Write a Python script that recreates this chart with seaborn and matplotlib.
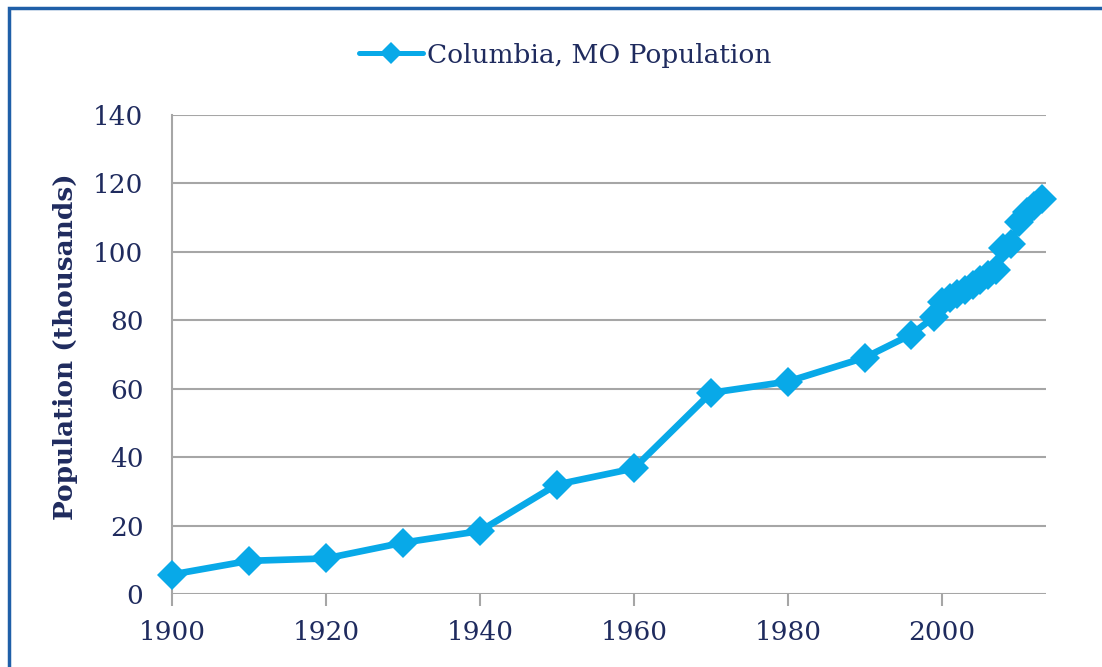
import matplotlib
matplotlib.use("Agg")
import matplotlib.pyplot as plt
import seaborn as sns
import pandas as pd
from matplotlib.patches import Rectangle

# Columbia, MO population by year (thousands)
years = [1900, 1910, 1920, 1930, 1940, 1950, 1960, 1970, 1980, 1990, 1996,
         1999, 2000, 2001, 2002, 2003, 2004, 2005, 2006, 2007, 2008, 2009,
         2010, 2011, 2012, 2013]
population = [5.7, 9.7, 10.4, 15.0, 18.4, 32.0, 36.7, 58.8, 62.1, 69.1, 75.8,
              81.0, 85.3, 86.5, 87.6, 88.8, 90.3, 91.8, 93.3, 94.8, 101.0, 102.3,
              108.6, 111.6, 113.5, 115.4]
y_ticks = [0, 20, 40, 60, 80, 100, 120, 140]
x_ticks = [1900, 1920, 1940, 1960, 1980, 2000]
series_name = "Columbia, MO Population"

df = pd.DataFrame({"Year": years, "Population": population})

sns.set_style("white")
plt.rcParams["font.family"] = ["DejaVu Serif"]

text_color = "#1f2b5e"
line_color = "#08a9e8"
grid_color = "#a6a6a6"

fig = plt.figure(figsize=(11.02, 6.67), dpi=100)
ax = fig.add_axes([0.156, 0.1094, 0.793, 0.7182])

sns.lineplot(data=df, x="Year", y="Population", ax=ax, color=line_color,
             linewidth=4.8, marker="D", markersize=15, markeredgewidth=0,
             legend=False, clip_on=False, zorder=3)

ax.set_xlim(1900, 2013.5)
ax.set_ylim(0, 140)
ax.set_xticks(x_ticks)
ax.set_yticks(y_ticks)
ax.yaxis.grid(True, color=grid_color, linewidth=1.5)
ax.set_axisbelow(True)

for side in ("top", "right", "bottom"):
    ax.spines[side].set_visible(False)
ax.spines["left"].set_color(grid_color)
ax.spines["left"].set_linewidth(1.5)
ax.spines["left"].set_zorder(1)

ax.tick_params(axis="y", length=8.5, width=1.5, color=grid_color,
               labelsize=19, labelcolor=text_color, pad=12)
ax.tick_params(axis="x", length=8.5, width=1.5, color=grid_color,
               labelsize=19, labelcolor=text_color, pad=10, bottom=True)

ax.set_xlabel("")
ax.set_ylabel("Population (thousands)", fontsize=19, fontweight="bold",
              color=text_color)
ax.yaxis.set_label_coords(-0.1076, 0.516)

# legend entry: line with a small diamond
handle = plt.Line2D([], [], color=line_color, linewidth=3.6, marker="D",
                    markersize=11, markeredgewidth=0)
leg = fig.legend([handle], [series_name], loc="center",
                 bbox_to_anchor=(0.513, 0.9175), frameon=False, fontsize=19,
                 handlelength=2.45, handletextpad=0.15)
for t in leg.get_texts():
    t.set_color(text_color)

# outer frame of the chart area
fig.patches.append(Rectangle((9 / 1102, -0.05), 1.2, 1 - 8 / 667 + 0.05,
                             transform=fig.transFigure, fill=False,
                             edgecolor="#1f5fa8", linewidth=2.5))

fig.savefig("out.png", dpi=100)
